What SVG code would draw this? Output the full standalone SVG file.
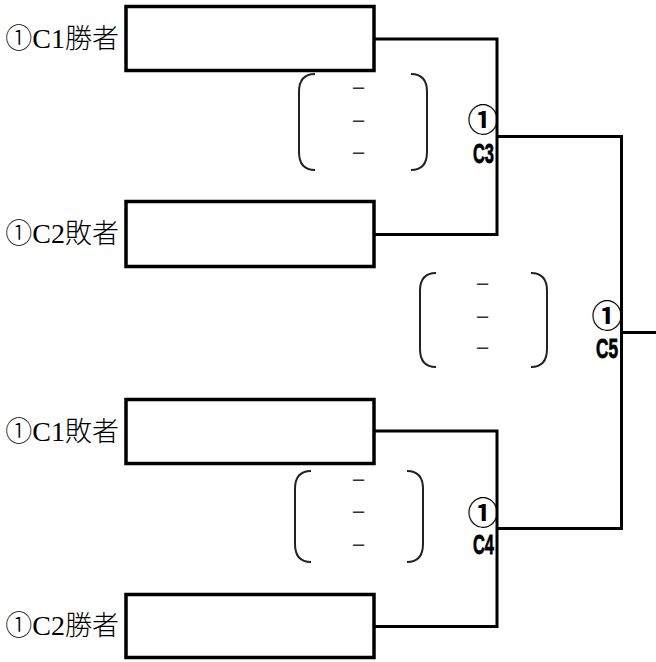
<svg xmlns="http://www.w3.org/2000/svg" width="656" height="662" viewBox="0 0 656 662">
<style>
.box{fill:#fff;stroke:#000;stroke-width:3.5}
.ln{fill:none;stroke:#000;stroke-width:3}
.lbl{font-family:"Noto Sans CJK JP",sans-serif;font-size:27px;fill:#000;text-anchor:end}
.lat{font-family:"Liberation Serif","DejaVu Serif",serif;font-size:28px}
.cj{font-family:"Noto Sans CJK JP",sans-serif;font-weight:300}
.num{font-family:"Noto Sans CJK JP",sans-serif;font-weight:bold;font-size:31px;fill:#000;text-anchor:middle}
.cid{font-family:"Liberation Sans",sans-serif;font-weight:bold;font-size:27px;fill:#000;stroke:#000;stroke-width:0.8;text-anchor:end}
.par{fill:none;stroke:#222;stroke-width:2}
.dash{font-family:"DejaVu Sans",sans-serif;font-size:18px;fill:#333;text-anchor:middle}
</style>
<rect width="656" height="662" fill="#fff"/>
<g id="connectors">
<polyline class="ln" points="374,39 497,39 497,234.5 374,234.5"/>
<polyline class="ln" points="497,136.5 621.5,136.5 621.5,528.5 497,528.5"/>
<line class="ln" x1="621.5" y1="332.5" x2="656" y2="332.5"/>
<polyline class="ln" points="374,431 497,431 497,626.5 374,626.5"/>
</g>
<g id="team1">
<rect class="box" x="126" y="6.5" width="248" height="64"/>
<text class="lbl" x="119" y="48"><tspan class="cj">①</tspan><tspan class="lat">C1</tspan><tspan class="cj">勝者</tspan></text>
</g>
<g id="team2">
<rect class="box" x="126" y="201.5" width="248" height="65"/>
<text class="lbl" x="119" y="243"><tspan class="cj">①</tspan><tspan class="lat">C2</tspan><tspan class="cj">敗者</tspan></text>
</g>
<g id="team3">
<rect class="box" x="126" y="399.5" width="248" height="64"/>
<text class="lbl" x="119" y="441"><tspan class="cj">①</tspan><tspan class="lat">C1</tspan><tspan class="cj">敗者</tspan></text>
</g>
<g id="team4">
<rect class="box" x="126" y="594.5" width="248" height="63"/>
<text class="lbl" x="119" y="635"><tspan class="cj">①</tspan><tspan class="lat">C2</tspan><tspan class="cj">勝者</tspan></text>
</g>
<g id="C3">
<text class="num" x="483" y="131">①</text>
<text class="cid" x="494" y="163" textLength="21" lengthAdjust="spacingAndGlyphs">C3</text>
<path class="par" d="M315,74 Q299,74 299,92 L299,152 Q299,170 315,170"/>
<path class="par" d="M411,74 Q427,74 427,92 L427,152 Q427,170 411,170"/>
<text class="dash" x="358.5" y="94">−</text>
<text class="dash" x="358.5" y="127">−</text>
<text class="dash" x="358.5" y="159">−</text>
</g>
<g id="C5">
<text class="num" x="607" y="327">①</text>
<text class="cid" x="618" y="358" textLength="22" lengthAdjust="spacingAndGlyphs">C5</text>
<path class="par" d="M436,273 Q420,273 420,291 L420,349 Q420,367 436,367"/>
<path class="par" d="M531,273 Q547,273 547,291 L547,349 Q547,367 531,367"/>
<text class="dash" x="482.5" y="290">−</text>
<text class="dash" x="482.5" y="323">−</text>
<text class="dash" x="482.5" y="354">−</text>
</g>
<g id="C4">
<text class="num" x="483" y="524">①</text>
<text class="cid" x="494" y="554" textLength="21" lengthAdjust="spacingAndGlyphs">C4</text>
<path class="par" d="M311,471 Q295,471 295,489 L295,544 Q295,562 311,562"/>
<path class="par" d="M407,471 Q423,471 423,489 L423,544 Q423,562 407,562"/>
<text class="dash" x="358.5" y="486">−</text>
<text class="dash" x="358.5" y="518">−</text>
<text class="dash" x="358.5" y="551">−</text>
</g>
</svg>
